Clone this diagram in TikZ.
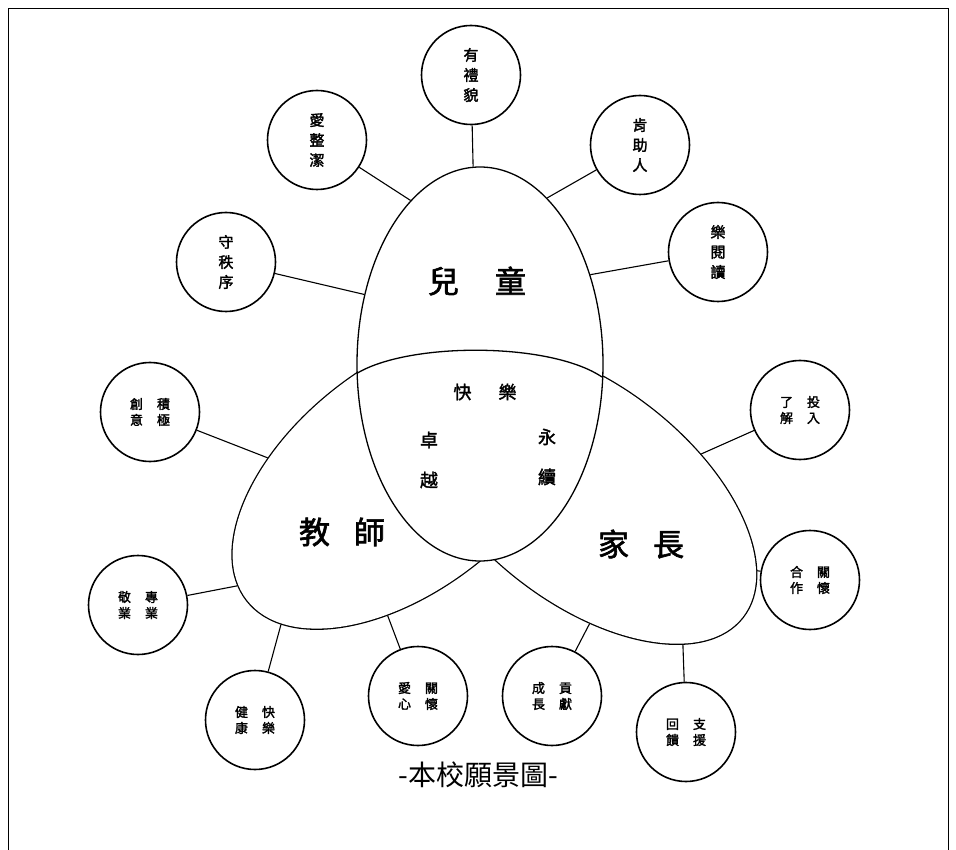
\documentclass[tikz,border=0pt]{standalone}
\usepackage{fontspec}
\newfontfamily\cjk{Noto Sans CJK TC}
\newfontfamily\cjkb[FakeBold=2]{Noto Sans CJK TC}
\usetikzlibrary{shapes.geometric}
\newcommand\twocol[4]{#1\hspace{14pt}#2\\#3\hspace{14pt}#4}
\begin{document}
\begin{tikzpicture}[x=1pt,y=-1pt,
  ustroke/.style={draw,line width=2.6pt,ellipse,inner sep=0pt},
  ufill/.style={fill=white,ellipse,inner sep=0pt},
  childbox/.style={draw,fill=white,line width=1.3pt,ellipse,inner sep=0pt,minimum width=246pt,minimum height=394pt},
  tshape/.style={minimum width=400pt,minimum height=224pt,rotate=38},
  pshape/.style={minimum width=400pt,minimum height=216pt,rotate=-38},
  sat/.style={draw,line width=1.6pt,circle,minimum size=99pt,inner sep=0pt,align=center,font=\cjkb\fontsize{13}{16}\selectfont},
  satv/.style={sat,font=\cjkb\fontsize{15}{20}\selectfont},
  link/.style={line width=1.1pt},
  big/.style={font=\cjkb\fontsize{31}{31}\selectfont,inner sep=0pt},
  mid/.style={font=\cjkb\fontsize{18}{40}\selectfont,inner sep=0pt,align=center},
  captext/.style={font=\cjk\fontsize{28}{28}\selectfont,inner sep=0pt}
]
\useasboundingbox (0,0) rectangle (956,850);
\draw[line width=0.8pt] (8,850) -- (8,8) -- (948,8) -- (948,850);

% teacher and parent: outline of their union
\node[ustroke,tshape] (teacher) at (404.7,477.1) {};
\node[ustroke,pshape] (parent) at (585,494) {};
\node[ufill,tshape] (teacherfill) at (teacher.center) {};
\node[ufill,pshape] (parentfill) at (parent.center) {};

% child ellipse on top, with the arc inside it
\node[childbox] (child) at (480,364) {};
\coordinate (arcl) at (357.5,373);
\coordinate (arcr) at (602,377);
\draw[line width=1.3pt] (arcl) .. controls (410,342) and (550,342) .. (arcr);

% labels
\node[big] (lchild) at (477,281) {兒\hspace{36pt}童};
\node[big] (lteacher) at (342,532) {教\hspace{24pt}師};
\node[big] (lparent) at (641,544) {家\hspace{24pt}長};
\node[mid] (lhappy) at (485,392) {快\hspace{27pt}樂};
\node[mid] (lexcel) at (429,460) {卓\\越};
\node[mid] (lsustain) at (547,457) {永\\續};

% satellites
\node[satv] (c1) at (471,75) {有\\禮\\貌};
\node[satv] (c2) at (317,140) {愛\\整\\潔};
\node[satv] (c3) at (640,145) {肯\\助\\人};
\node[satv] (c4) at (718,252) {樂\\閱\\讀};
\node[satv] (c5) at (226,262) {守\\秩\\序};
\node[sat] (c6) at (800,410) {\twocol{了}{投}{解}{入}};
\node[sat] (c7) at (150,412) {\twocol{創}{積}{意}{極}};
\node[sat] (c8) at (810,580) {\twocol{合}{關}{作}{懷}};
\node[sat] (c9) at (138,605) {\twocol{敬}{專}{業}{業}};
\node[sat] (c10) at (255,720) {\twocol{健}{快}{康}{樂}};
\node[sat] (c11) at (418,696) {\twocol{愛}{關}{心}{懷}};
\node[sat] (c12) at (552,696) {\twocol{成}{貢}{長}{獻}};
\node[sat] (c13) at (686,732) {\twocol{回}{支}{饋}{援}};

% connectors
\draw[link] (c1) -- (child.92);
\draw[link] (c2) -- (child.113);
\draw[link] (c3) -- (child.68);
\draw[link] (c4) -- (child.39);
\draw[link] (c5) -- (child.149);
\draw[link] (c7) -- (teacher.134);
\draw[link] (c9) -- (teacher.175);
\draw[link] (c10) -- (teacher.192);
\draw[link] (c11) -- (teacher.225);
\draw[link] (c6) -- (parent.57);
\draw[link] (c8) -- (parent.14);
\draw[link] (c12) -- (parent.-50);
\draw[link] (c13) -- (parent.-19);

% caption
\node[captext] (caption) at (478,775) {-本校願景圖-};
\end{tikzpicture}
\end{document}
